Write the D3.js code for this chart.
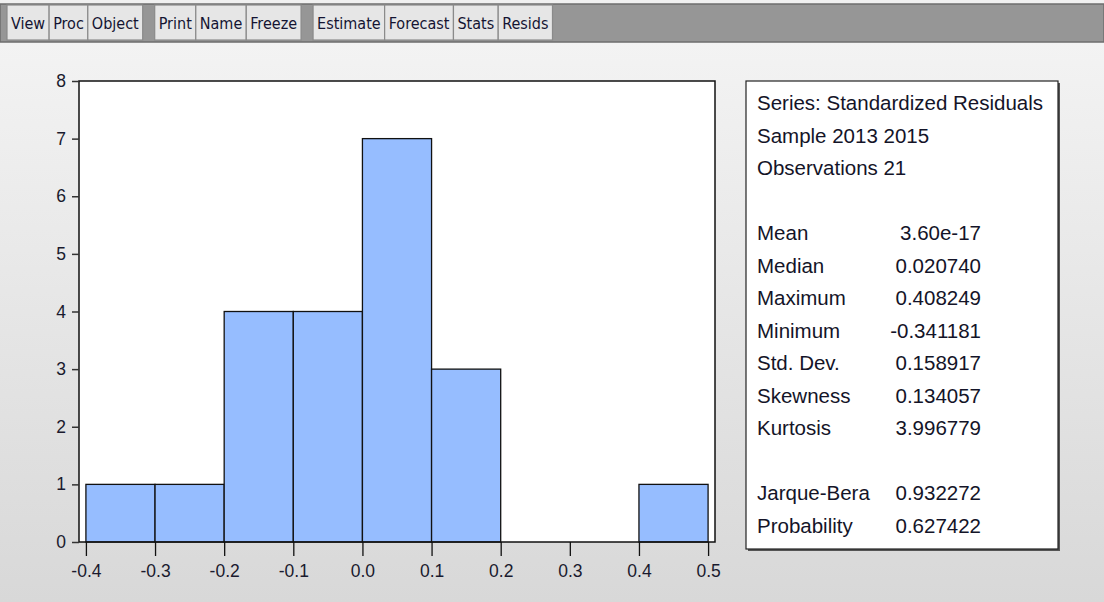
<!DOCTYPE html>
<html>
<head>
<meta charset="utf-8">
<script src="https://cdn.jsdelivr.net/npm/d3@7"></script>
<style>
  body { margin: 0; background: #eeeeee; }
  text { font-family: "Liberation Sans", Arial, sans-serif; }
</style>
</head>
<body>
<script>
// histogram bins (left edges) and counts
var binStarts = [-0.4, -0.3, -0.2, -0.1, 0.0, 0.1, 0.2, 0.3, 0.4];
var binCounts = [1, 1, 4, 4, 7, 3, 0, 0, 1];
var xTicks = [-0.4, -0.3, -0.2, -0.1, 0.0, 0.1, 0.2, 0.3, 0.4, 0.5];
var yTicks = [0, 1, 2, 3, 4, 5, 6, 7, 8];

// stats panel
var headerLines = ["Series: Standardized Residuals", "Sample 2013 2015", "Observations 21"];
var statNames = ["Mean", "Median", "Maximum", "Minimum", "Std. Dev.", "Skewness", "Kurtosis"];
var statValues = ["3.60e-17", "0.020740", "0.408249", "-0.341181", "0.158917", "0.134057", "3.996779"];
var testNames = ["Jarque-Bera", "Probability"];
var testValues = ["0.932272", "0.627422"];

// toolbar buttons
var buttons = ["View", "Proc", "Object", "|", "Print", "Name", "Freeze", "|", "Estimate", "Forecast", "Stats", "Resids"];

var W = 1104, H = 602;
var svg = d3.select("body").append("svg")
    .attr("width", W).attr("height", H);

var defs = svg.append("defs");
var grad = defs.append("linearGradient").attr("id", "bg")
    .attr("x1", 0).attr("y1", 0).attr("x2", 0).attr("y2", 1);
grad.append("stop").attr("offset", "0%").attr("stop-color", "#f5f5f5");
grad.append("stop").attr("offset", "100%").attr("stop-color", "#d8d8d8");

svg.append("rect").attr("width", W).attr("height", H).attr("fill", "url(#bg)");

// toolbar
svg.append("rect").attr("x", 0).attr("y", 0).attr("width", W).attr("height", 4).attr("fill", "#f0f0f0");
svg.append("rect").attr("x", 0).attr("y", 4).attr("width", W).attr("height", 38)
    .attr("fill", "#969696").attr("stroke", "#6e6e6e").attr("stroke-width", 1.5);

var bx = 7;
buttons.forEach(function(b) {
  if (b == "|") { bx += 12; return; }
  var t = svg.append("text")
      .attr("y", 29)
      .style("font-family", "'DejaVu Sans Condensed', 'Liberation Sans Narrow', Arial, sans-serif")
      .style("font-size", "16px")
      .attr("fill", "#141432")
      .text(b);
  var w = t.node().getComputedTextLength() + 8;
  svg.insert("rect", "text")
      .attr("x", bx).attr("y", 5).attr("width", w).attr("height", 35)
      .attr("fill", "#e6e6e6").attr("stroke", "#8a8a8a").attr("stroke-width", 1.2);
  t.attr("x", bx + 4);
  bx += w;
});

// histogram plot
var plot = {left: 79, right: 715, top: 81, bottom: 542};
var x = d3.scaleLinear().domain([-0.41, 0.51]).range([plot.left, plot.right]);
var y = d3.scaleLinear().domain([0, 8]).range([plot.bottom, plot.top]);

svg.append("rect")
    .attr("x", plot.left).attr("y", plot.top)
    .attr("width", plot.right - plot.left).attr("height", plot.bottom - plot.top)
    .attr("fill", "#ffffff");

svg.selectAll(".bar")
    .data(binStarts.map(function(s, i) { return {x0: s, x1: s + 0.1, n: binCounts[i]}; })
      .filter(function(d) { return d.n > 0; }))
  .enter().append("rect")
    .attr("class", "bar")
    .attr("x", function(d) { return x(d.x0); })
    .attr("y", function(d) { return y(d.n); })
    .attr("width", function(d) { return x(d.x1) - x(d.x0); })
    .attr("height", function(d) { return y(0) - y(d.n); })
    .attr("fill", "#96bdff")
    .attr("stroke", "#111")
    .attr("stroke-width", 1.3);

svg.append("rect")
    .attr("x", plot.left).attr("y", plot.top)
    .attr("width", plot.right - plot.left).attr("height", plot.bottom - plot.top)
    .attr("fill", "none").attr("stroke", "#111").attr("stroke-width", 1.5);

var xAxis = svg.append("g")
    .attr("transform", "translate(0," + plot.bottom + ")")
    .call(d3.axisBottom(x).tickValues(xTicks).tickSize(14).tickSizeOuter(0)
      .tickFormat(d3.format(".1f")));
xAxis.select(".domain").remove();
xAxis.selectAll("line").attr("stroke", "#111").attr("stroke-width", 1.3);
xAxis.selectAll("text")
    .attr("y", 23).attr("dy", "0.71em")
    .style("font-size", "17.5px").style("font-family", "'Liberation Sans', Arial, sans-serif")
    .attr("fill", "#1a1a2e")
    .text(function(d) { return d3.format(".1f")(d).replace("−", "-"); });

var yAxis = svg.append("g")
    .attr("transform", "translate(" + plot.left + ",0)")
    .call(d3.axisLeft(y).tickValues(yTicks).tickSize(7).tickSizeOuter(0));
yAxis.select(".domain").remove();
yAxis.selectAll("line").attr("stroke", "#333").attr("stroke-width", 1.5);
yAxis.selectAll("text")
    .attr("x", -13)
    .style("font-size", "17.5px").style("font-family", "'Liberation Sans', Arial, sans-serif")
    .attr("fill", "#1a1a2e");

// stats box
var box = {x: 746, y: 81, w: 312, h: 468};
svg.append("rect").attr("x", box.x + 2).attr("y", box.y + 2)
    .attr("width", box.w).attr("height", box.h).attr("fill", "#555");
svg.append("rect").attr("x", box.x).attr("y", box.y)
    .attr("width", box.w).attr("height", box.h)
    .attr("fill", "#ffffff").attr("stroke", "#222").attr("stroke-width", 1.2);

var lineH = 32.5, tx = 757, vx = 981, base0 = 110;
var st = svg.append("g").style("font-size", "20.5px").attr("fill", "#141428");

headerLines.forEach(function(s, i) {
  st.append("text").attr("x", tx).attr("y", base0 + i * lineH).text(s);
});
statNames.forEach(function(s, i) {
  var yy = base0 + (i + 4) * lineH;
  st.append("text").attr("x", tx).attr("y", yy).text(s);
  st.append("text").attr("x", vx).attr("y", yy).attr("text-anchor", "end").text(statValues[i]);
});
testNames.forEach(function(s, i) {
  var yy = base0 + (i + 12) * lineH;
  st.append("text").attr("x", tx).attr("y", yy).text(s);
  st.append("text").attr("x", vx).attr("y", yy).attr("text-anchor", "end").text(testValues[i]);
});
</script>
</body>
</html>
